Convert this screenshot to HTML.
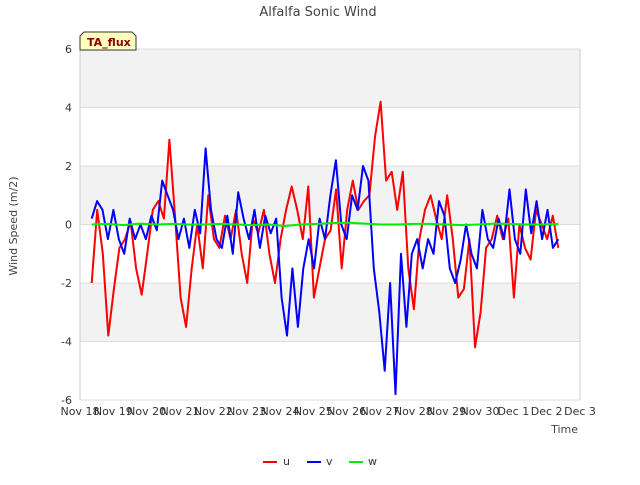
<!DOCTYPE html>
<html><head><meta charset="utf-8"><style>
body{margin:0;background:#fff;font-family:"Liberation Sans","DejaVu Sans",sans-serif}
</style></head><body>
<svg id="c" width="640" height="480" xmlns="http://www.w3.org/2000/svg" font-family="DejaVu Sans, Liberation Sans, sans-serif">
<text x="318" y="16" text-anchor="middle" font-size="13" fill="#444">Alfalfa Sonic Wind</text>
<g id="plot"></g>
<text transform="translate(17,226) rotate(-90)" text-anchor="middle" font-size="11" fill="#444">Wind Speed (m/2)</text>
<text x="578" y="433" text-anchor="end" font-size="11" fill="#444">Time</text>
<g>
<path d="M80,50 L80,36 L84,32 L132,32 L136,36 L136,50 Z" fill="#ffffc0" stroke="#333"/>
<text x="87" y="46" font-size="11" font-weight="bold" fill="#8b0000">TA_flux</text></g>
<g>
<g><line x1="263" y1="462" x2="277" y2="462" stroke="#f00" stroke-width="2"/><text x="283" y="465" font-size="11" fill="#333">u</text></g>
<g><line x1="307" y1="462" x2="321" y2="462" stroke="#00f" stroke-width="2"/><text x="326" y="465" font-size="11" fill="#333">v</text></g>
<g><line x1="349" y1="462" x2="363" y2="462" stroke="#0e0" stroke-width="2"/><text x="368" y="465" font-size="11" fill="#333">w</text></g>
</g>
</svg>
<script>
const xTickLabels=["Nov 18","Nov 19","Nov 20","Nov 21","Nov 22","Nov 23","Nov 24","Nov 25","Nov 26","Nov 27","Nov 28","Nov 29","Nov 30","Dec 1","Dec 2","Dec 3"];
const yTicks=[-6,-4,-2,0,2,4,6];
const tStart=0.35, tEnd=14.35;
const uValues=[-2.0,0.5,-1.0,-3.8,-2.2,-0.8,-0.5,0.1,-1.5,-2.4,-1.0,0.5,0.8,0.2,2.9,0.3,-2.5,-3.5,-1.5,0.0,-1.5,1.0,-0.5,-0.8,0.3,-0.5,0.5,-1.0,-2.0,0.2,-0.3,0.5,-1.0,-2.0,-0.5,0.5,1.3,0.5,-0.5,1.3,-2.5,-1.5,-0.5,-0.2,1.2,-1.5,0.5,1.5,0.5,0.8,1.0,3.0,4.2,1.5,1.8,0.5,1.8,-1.5,-2.9,-0.5,0.5,1.0,0.2,-0.5,1.0,-0.5,-2.5,-2.2,-0.5,-4.2,-3.0,-0.8,-0.5,0.3,-0.5,0.2,-2.5,0.0,-0.8,-1.2,0.5,0.0,-0.5,0.3,-0.8];
const vValues=[0.2,0.8,0.5,-0.5,0.5,-0.5,-1.0,0.2,-0.5,0.0,-0.5,0.3,-0.2,1.5,1.0,0.5,-0.5,0.2,-0.8,0.5,-0.3,2.6,0.5,-0.5,-0.8,0.3,-1.0,1.1,0.2,-0.5,0.5,-0.8,0.3,-0.3,0.2,-2.5,-3.8,-1.5,-3.5,-1.5,-0.5,-1.5,0.2,-0.5,1.0,2.2,0.0,-0.5,1.0,0.5,2.0,1.5,-1.5,-3.0,-5.0,-2.0,-5.8,-1.0,-3.5,-1.0,-0.5,-1.5,-0.5,-1.0,0.8,0.3,-1.5,-2.0,-1.2,0.0,-1.0,-1.5,0.5,-0.5,-0.8,0.2,-0.5,1.2,-0.5,-1.0,1.2,-0.3,0.8,-0.5,0.5,-0.8,-0.5];
const wValues=[0.0,0.02,-0.02,0.03,0.0,0.02,0.0,0.0,0.02,0.0,-0.02,0.0,-0.05,0.0,0.02,0.05,0.06,0.03,0.0,0.0,0.02,0.02,0.0,-0.02,0.0,0.03,0.02,0.0,0.0,0.02];
const L=80,R=580,T=49,B=400;
const xs=d=>L+(R-L)*d/15;
const ys=v=>B-(v+6)/12*(B-T);
const NS="http://www.w3.org/2000/svg";
const g=document.getElementById('plot');
function mk(t,a,p){const e=document.createElementNS(NS,t);for(const k in a)e.setAttribute(k,a[k]);(p||g).appendChild(e);return e;}
mk('rect',{x:L,y:T,width:R-L,height:B-T,fill:'#fff'});
for(let i=0;i<6;i++){if(i%2===0){const b=mk('rect',{x:L,y:ys(6-2*i),width:R-L,height:ys(4-2*i)-ys(6-2*i),fill:'#f2f2f2'});

}}
yTicks.forEach(v=>{mk('line',{x1:L,x2:R,y1:ys(v),y2:ys(v),stroke:'#ddd'});
const t=mk('text',{x:72,y:ys(v)+4,'text-anchor':'end','font-size':11,fill:'#333'});t.textContent=v;

});
mk('line',{x1:L,x2:L,y1:T,y2:B,stroke:'#ccc'});mk('line',{x1:R,x2:R,y1:T,y2:B,stroke:'#ccc'});
xTickLabels.forEach((s,i)=>{const t=mk('text',{x:xs(i),y:415,'text-anchor':'middle','font-size':11,fill:'#333'});t.textContent=s;

});
function series(vals,col,name){const n=vals.length;const pts=vals.map((v,i)=>xs(tStart+(tEnd-tStart)*i/(n-1)).toFixed(1)+','+ys(v).toFixed(1)).join(' ');
const p=mk('polyline',{points:pts,fill:'none',stroke:col,'stroke-width':2,'stroke-linejoin':'round'});

}
series(uValues,'#ff0000','series-u');
series(vValues,'#0000ff','series-v');
series(wValues,'#00ee00','series-w');
</script>
</body></html>
